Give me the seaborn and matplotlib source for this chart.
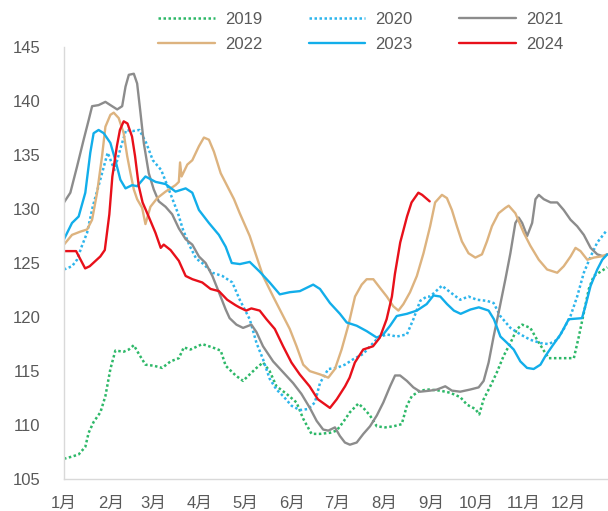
import matplotlib
matplotlib.use("Agg")
import matplotlib.pyplot as plt
from matplotlib import font_manager
import seaborn as sns
import pandas as pd

# ---------------- data (day of year, value) ----------------
d2019 = [0, 5.3, 9.7, 14.1, 16.3, 19.6, 24.1, 27.4, 30.7, 34, 39.5, 42.9, 46.2, 49.5, 53.9, 59.4, 65, 70.5,
         76, 79.3, 83.7, 91.5, 98.2, 103.7, 107, 113.6, 118.5, 122.9, 127.4, 131.7, 136.1, 140.6, 147.3,
         153.9, 158.3, 163.8, 169.4, 176, 180.4, 184.8, 189.2, 194.8, 198.1, 202.5, 207, 212.5, 218, 223.5,
         226.9, 230.2, 235.7, 241.2, 248.9, 255.6, 262.2, 266.7, 272.2, 274.8, 277.7, 282.1, 286.5, 290.9,
         295.4, 299.8, 303.2, 308.6, 313.1, 317.5, 320.8, 329, 337.4, 340.7, 344, 347.3, 350.6, 355.1, 359.5]
v2019 = [106.9, 107.1, 107.3, 108.0, 109.3, 110.3, 111.2, 112.7, 115.2, 116.9, 116.8, 117.0, 117.4, 116.6,
         115.6, 115.5, 115.3, 115.9, 116.2, 117.2, 117.0, 117.5, 117.2, 116.9, 115.5, 114.6, 114.1, 114.7,
         115.3, 115.8, 115.0, 113.6, 112.9, 112.1, 110.6, 109.2, 109.2, 109.3, 109.5, 110.3, 111.2, 112.0,
         111.6, 110.9, 109.9, 109.8, 109.9, 110.1, 111.8, 112.7, 113.2, 113.3, 113.2, 113.0, 112.6, 111.9,
         111.5, 111.0, 112.4, 113.6, 114.9, 116.4, 117.6, 118.9, 119.3, 119.0, 117.9, 116.9, 116.2, 116.2,
         116.2, 118.2, 120.4, 122.6, 123.8, 124.2, 124.6]

d2020 = [0, 5.3, 8.6, 11.9, 15.3, 19, 23.4, 28.9, 33.4, 37.8, 41.1, 45.5, 49.9, 54.4, 58.8, 64.3, 67.7, 71,
         75.4, 78.7, 83.1, 87.5, 91.5, 98.2, 104.8, 111.4, 116.3, 122.9, 127.4, 131.7, 136.1, 140.6, 145,
         150.6, 156.1, 161.6, 166, 169.4, 174.9, 180.4, 185.9, 191.4, 198.1, 202.5, 208, 213.6, 220.2, 226.9,
         231.2, 235.7, 240.1, 242.3, 250.1, 255.6, 262.2, 267.7, 273.3, 279.9, 284.3, 288.7, 295.4, 302,
         308.6, 315.3, 320.8, 326.4, 330.7, 335.2, 339.6, 344, 348.5, 352.9, 358.5]
v2020 = [124.4, 124.7, 125.3, 126.6, 127.8, 130.2, 132.4, 135.2, 133.6, 135.8, 137.3, 137.2, 137.3, 136.1,
         134.5, 133.6, 132.4, 131.2, 129.6, 128.1, 126.6, 125.4, 125.0, 124.1, 123.8, 123.2, 121.6, 119.8,
         117.6, 116.1, 114.3, 113.3, 112.7, 111.8, 111.4, 111.5, 112.1, 113.9, 115.2, 115.3, 115.6, 116.1,
         116.6, 117.3, 118.1, 118.4, 118.2, 118.4, 119.8, 121.5, 121.9, 121.9, 122.9, 122.3, 121.6, 121.9,
         121.6, 121.5, 121.3, 120.1, 119.0, 118.4, 117.9, 117.6, 117.5, 117.9, 118.9, 120.1, 121.9, 124.1,
         125.6, 126.9, 127.9]

d2021 = [0, 4.2, 8.6, 13, 16.3, 18.6, 22.9, 27.4, 30.7, 35.2, 38.5, 40.7, 42.9, 46.2, 48.4, 50.6, 52.8, 56.1,
         59.4, 62.7, 67.2, 71.6, 76, 80.5, 84.9, 89.3, 93.7, 98.2, 102.5, 107, 109.6, 114.1, 118.5, 124,
         127.4, 131.7, 138.4, 145, 151.6, 157.1, 162.7, 167.2, 171.5, 174.9, 179.3, 182.6, 185.9, 189.2,
         193.7, 198.1, 202.5, 207, 211.3, 215.8, 219.1, 222.4, 226.9, 231.2, 235.7, 242.3, 246.8, 252.3,
         256.7, 262.2, 268.8, 274.4, 277.7, 281, 284.3, 287.6, 292.1, 295.4, 298.7, 300.9, 303.2, 306.5,
         309.8, 312, 314.2, 317.5, 322, 326.4, 330.7, 335.2, 339.6, 344, 348.5, 352.9, 357.3, 359.5]
v2021 = [130.6, 131.5, 133.9, 136.4, 138.2, 139.5, 139.6, 139.9, 139.6, 139.2, 139.5, 141.3, 142.4, 142.5,
         141.6, 138.9, 136.1, 133.3, 131.8, 130.7, 130.2, 129.5, 128.2, 127.2, 126.7, 125.6, 125.0, 123.8,
         122.3, 120.7, 119.9, 119.3, 119.0, 119.3, 118.6, 117.3, 115.9, 114.9, 113.9, 112.9, 111.6, 110.4,
         109.6, 109.5, 109.8, 109.0, 108.4, 108.2, 108.4, 109.2, 109.9, 110.9, 112.1, 113.6, 114.6, 114.6,
         114.1, 113.5, 113.1, 113.2, 113.3, 113.6, 113.2, 113.1, 113.3, 113.5, 114.1, 115.8, 118.2, 120.4,
         123.5, 125.9, 128.7, 129.2, 128.7, 127.5, 128.7, 130.9, 131.3, 130.9, 130.6, 130.6, 129.9, 129.0,
         128.4, 127.6, 126.4, 125.8, 125.6, 125.8]

d2022 = [0, 5.3, 10.8, 15.3, 18.6, 21.9, 25.2, 27.4, 30.7, 32.9, 36.2, 39.5, 41.8, 44, 46.2, 48.4, 51.7, 53.9,
         57.2, 61.7, 67.2, 73.8, 76, 76.8, 77.8, 81.6, 84.9, 89.3, 92.6, 95.9, 99.2, 103.7, 108.1, 112.5,
         116.3, 122.9, 127.4, 131.7, 138.4, 142.8, 149.4, 153.9, 158.3, 162.7, 169.4, 174.9, 179.3, 183.7,
         188.1, 192.6, 197, 200.3, 204.7, 209.1, 213.6, 217.9, 221.3, 224.6, 229, 233.5, 237.9, 242.3, 245.6,
         250.1, 253.4, 256.7, 260, 263.3, 267.7, 272.2, 276.6, 279.9, 283.2, 287.6, 292.1, 294.3, 298.7,
         304.2, 308.6, 314.2, 319.7, 326.4, 330.7, 335.2, 338.5, 341.8, 346.3, 350.6, 355.1, 359.5]
v2022 = [126.7, 127.6, 127.9, 128.1, 129.0, 131.5, 134.9, 137.6, 138.7, 138.9, 138.4, 137.0, 134.9, 133.3,
         131.8, 130.9, 130.1, 128.6, 130.2, 131.0, 131.6, 132.2, 132.5, 134.3, 133.0, 134.1, 134.5, 135.8,
         136.6, 136.4, 135.3, 133.3, 132.1, 130.9, 129.6, 127.5, 125.6, 123.8, 121.9, 120.7, 118.9, 117.3,
         115.6, 115.0, 114.7, 114.4, 115.2, 117.0, 119.2, 121.9, 123.0, 123.5, 123.5, 122.7, 121.9, 121.0,
         120.6, 121.2, 122.3, 123.8, 125.9, 128.4, 130.6, 131.3, 131.0, 129.9, 128.4, 127.0, 125.9, 125.5,
         125.8, 127.0, 128.4, 129.6, 130.1, 130.3, 129.6, 127.8, 126.6, 125.3, 124.4, 124.1, 124.7, 125.6,
         126.4, 126.1, 125.3, 125.5, 125.6, 125.8]

d2023 = [0, 5.3, 9.7, 14.1, 17.4, 19.6, 22.9, 26.3, 30.7, 34, 37.3, 40.7, 45.1, 48.4, 53.9, 60.6, 67.2, 73.8,
         80.5, 84.9, 89.3, 95.9, 102.5, 107, 111, 116.4, 122.9, 129.5, 136.1, 142.8, 149.4, 156.1, 164.9,
         169.4, 176, 182.6, 187.1, 193.7, 200.3, 207, 211.3, 215.8, 220.2, 226.9, 233.5, 240, 244.5, 249,
         253.5, 258, 262.5, 269, 274.5, 281, 284.5, 288.8, 293.3, 297.6, 302, 306.4, 310.8, 315.3, 318.6, 323,
         328.6, 334, 342.8, 345, 348.5, 352.9, 356.2, 359.5]
v2023 = [127.2, 128.7, 129.3, 131.5, 135.2, 137.0, 137.3, 137.0, 136.1, 134.5, 132.7, 131.9, 132.2, 132.1,
         133.0, 132.5, 132.3, 131.6, 131.9, 131.5, 129.9, 128.7, 127.6, 126.5, 125.0, 124.9, 125.1, 124.2,
         123.2, 122.1, 122.3, 122.4, 123.0, 122.6, 121.3, 120.3, 119.5, 119.2, 118.7, 118.1, 118.4, 119.2,
         120.1, 120.3, 120.6, 121.2, 122.0, 121.9, 121.2, 120.6, 120.3, 120.7, 120.9, 120.6, 119.8, 118.2,
         117.6, 117.0, 115.9, 115.3, 115.2, 115.6, 116.4, 117.3, 118.4, 119.8, 119.9, 121.0, 122.9, 124.4,
         125.3, 125.8]

d2024 = [0, 8, 14, 17, 24, 27, 30, 32, 35, 37, 39.5, 42, 45, 47, 49.5, 52, 56, 60.5, 64, 66, 70.5, 76, 80.5,
         85, 91.5, 97, 102.5, 108, 113.5, 116, 120.5, 124, 129.5, 134, 139.5, 145, 150.5, 156, 162.5, 168,
         176, 180.5, 186, 189, 192.5, 198, 204.5, 209, 213.5, 217, 219, 222.5, 227, 230, 234.5, 237, 242]
v2024 = [126.1, 126.1, 124.5, 124.7, 125.6, 126.2, 129.5, 133.0, 135.8, 137.3, 138.1, 137.9, 136.7, 134.9,
         132.1, 130.6, 129.3, 127.8, 126.4, 126.7, 126.2, 125.2, 123.8, 123.5, 123.2, 122.6, 122.4, 121.6,
         121.1, 120.9, 120.6, 120.8, 120.6, 119.8, 118.9, 117.3, 115.8, 114.7, 113.6, 112.4, 111.6, 112.4,
         113.6, 114.4, 115.8, 117.0, 117.3, 118.1, 119.8, 121.9, 124.0, 126.9, 129.3, 130.6, 131.5, 131.3,
         130.7]

years = ["2019", "2020", "2021", "2022", "2023", "2024"]
month_labels = ["1月", "2月", "3月", "4月", "5月", "6月", "7月", "8月", "9月", "10月", "11月", "12月"]
month_starts = [0, 31, 59, 90, 120, 151, 181, 212, 243, 273, 304, 334]
y_ticks = [105, 110, 115, 120, 125, 130, 135, 140, 145]

series = {
    "2019": (d2019, v2019),
    "2020": (d2020, v2020),
    "2021": (d2021, v2021),
    "2022": (d2022, v2022),
    "2023": (d2023, v2023),
    "2024": (d2024, v2024),
}
frames = []
for y in years:
    d, v = series[y]
    frames.append(pd.DataFrame({"day": d, "value": v, "year": y}))
df = pd.concat(frames, ignore_index=True)

# ---------------- style ----------------
sns.set_theme(style="white")
available = {f.name for f in font_manager.fontManager.ttflist}
latin = "Liberation Sans Narrow" if "Liberation Sans Narrow" in available else "Liberation Sans"
plt.rcParams["font.family"] = [latin, "Noto Sans CJK SC", "DejaVu Sans"]
text_color = "#595959"

colors = {"2019": "#2DB868", "2020": "#2DB5EC", "2021": "#8C8C8C",
          "2022": "#DDB37F", "2023": "#12AEEA", "2024": "#E8101A"}
dotted = {"2019", "2020"}

fig = plt.figure(figsize=(6.08, 5.11), dpi=100)
ax = fig.add_axes([64 / 608, 1 - 479.3 / 511, 1 - 64 / 608, (479.3 - 46.7) / 511])

handles = {}
for y in years:
    sub = df[df["year"] == y]
    ls = (0, (1, 1)) if y in dotted else "-"
    sns.lineplot(data=sub, x="day", y="value", ax=ax, color=colors[y], linewidth=1.8 if y in dotted else 1.7,
                 linestyle=ls, label=y, legend=False)
    handles[y] = ax.lines[-1]

ax.set_xlim(0, 360)
ax.set_ylim(105, 145)
ax.set_yticks(y_ticks)
ax.set_xticks(month_starts)
ax.set_xticklabels(month_labels)
ax.set_xlabel("")
ax.set_ylabel("")
for s in ["top", "right"]:
    ax.spines[s].set_visible(False)
for s in ["left", "bottom"]:
    ax.spines[s].set_color("#D9D9D9")
    ax.spines[s].set_linewidth(1.0)
ax.tick_params(axis="both", which="both", direction="out", length=4, width=1.0, color="#D9D9D9",
               labelcolor=text_color, labelsize=12)
ax.tick_params(axis="y", pad=13)
ax.tick_params(axis="x", pad=8)
ax.grid(False)

order = ["2019", "2022", "2020", "2023", "2021", "2024"]
leg = fig.legend([handles[k] for k in order], order, ncol=3, loc="upper left",
                 bbox_to_anchor=(158 / 608, 1 - 12 / 511), frameon=False, fontsize=12,
                 handlelength=3.4, handletextpad=0.6, columnspacing=2.8, labelspacing=0.62,
                 borderpad=0, borderaxespad=0)
for t in leg.get_texts():
    t.set_color(text_color)

fig.savefig("out.png", dpi=100)
